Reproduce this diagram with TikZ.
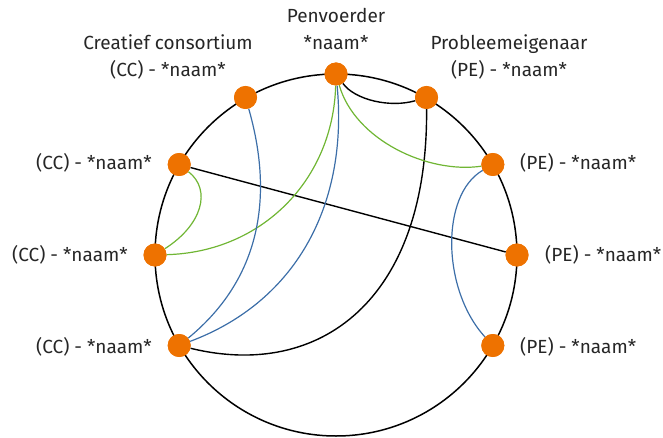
\documentclass[tikz,border=0pt]{standalone}
\usepackage{fontspec}
\setmainfont{Fira Sans}
\definecolor{nodeor}{RGB}{238,114,0}
\definecolor{lgreen}{RGB}{112,182,52}
\definecolor{lblue}{RGB}{60,110,168}
\begin{document}
\begin{tikzpicture}[x=1pt,y=-1pt,
  dot/.style={circle,fill=nodeor,draw=none,minimum size=23pt,inner sep=0pt},
  lbl/.style={font=\fontsize{19}{27}\selectfont,text=black!85,inner sep=0pt,align=center},
  rim/.style={black,line width=1.5pt},
  blk/.style={black,line width=1.4pt},
  grn/.style={lgreen,line width=1.2pt},
  blu/.style={lblue,line width=1.2pt}]
\useasboundingbox (0,0) rectangle (663,438);
\coordinate (ctr) at (336,255);
\draw[rim] (ctr) circle[radius=181];
% nodes
\node[dot] (top) at (336,74) {};
\node[dot] (pe1) at (426.5,97.5) {};
\node[dot] (pe2) at (492.8,164.5) {};
\node[dot] (pe3) at (517,255) {};
\node[dot] (pe4) at (492.8,345.5) {};
\node[dot] (cc1) at (245.5,97.5) {};
\node[dot] (cc2) at (179.2,164.5) {};
\node[dot] (cc3) at (155,255) {};
\node[dot] (cc4) at (179.2,345.5) {};
% connectors
\draw[blk] (top) .. controls (355,100) and (390,108) .. (pe1);
\draw[blk] (pe1) .. controls (428,300) and (320,380) .. (cc4);
\draw[blk] (cc2) -- (pe3);
\draw[grn] (top) .. controls (333,180) and (262,252) .. (cc3);
\draw[grn] (top) .. controls (355,140) and (428,174) .. (pe2);
\draw[grn] (cc2) .. controls (212,190) and (202,225) .. (cc3);
\draw[blu] (cc1) .. controls (272,190) and (265,275) .. (cc4);
\draw[blu] (top) .. controls (348,200) and (300,300) .. (cc4);
\draw[blu] (pe2) .. controls (440,195) and (442,290) .. (pe4);
% redraw dots on top
\foreach \n in {top,pe1,pe2,pe3,pe4,cc1,cc2,cc3,cc4}
  \fill[nodeor] (\n.center) circle[radius=11.5];
% labels
\node[lbl] (ltop) at (336,29) {Penvoerder\\*naam*};
\node[lbl] (lcc1) at (168,57) {Creatief consortium\\(CC) - *naam*};
\node[lbl] (lpe1) at (509,57) {Probleemeigenaar\\(PE) - *naam*};
\node[lbl,anchor=east] (lcc2) at (152,163) {(CC) - *naam*};
\node[lbl,anchor=east] (lcc3) at (128,255) {(CC) - *naam*};
\node[lbl,anchor=east] (lcc4) at (152,347) {(CC) - *naam*};
\node[lbl,anchor=west] (lpe2) at (520,163) {(PE) - *naam*};
\node[lbl,anchor=west] (lpe3) at (545,255) {(PE) - *naam*};
\node[lbl,anchor=west] (lpe4) at (520,347) {(PE) - *naam*};
\end{tikzpicture}
\end{document}
